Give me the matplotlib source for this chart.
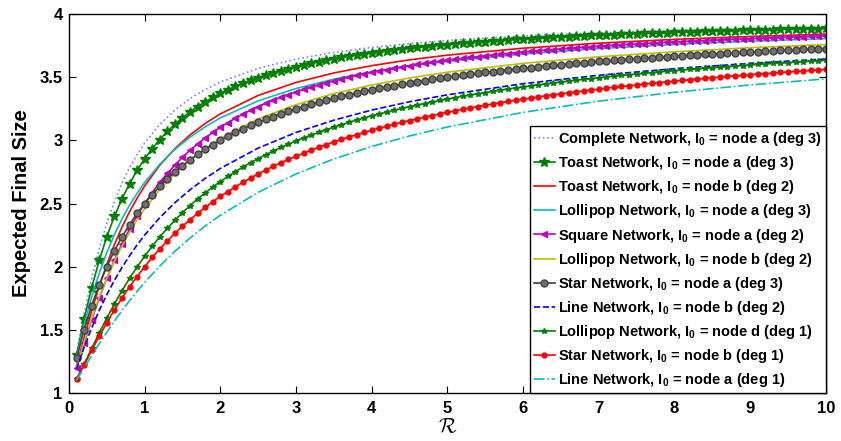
import numpy as np
import matplotlib
matplotlib.use('Agg')
import matplotlib.pyplot as plt

plt.rcParams['font.family'] = 'Liberation Sans'
plt.rcParams['font.weight'] = 'bold'
plt.rcParams['mathtext.fontset'] = 'custom'
plt.rcParams['mathtext.rm'] = 'Liberation Sans:bold'
plt.rcParams['mathtext.bf'] = 'Liberation Sans:bold'
plt.rcParams['mathtext.it'] = 'Liberation Sans:bold:italic'
plt.rcParams['mathtext.default'] = 'rm'

# R grid: markers every 0.1 for the marker series, coarser grid for plain lines
R_fine = np.arange(1, 101) / 10
R_coarse = [0.1, 0.2, 0.3, 0.4, 0.5, 0.6, 0.7, 0.8, 0.9, 1.0, 1.2, 1.4, 1.6, 1.8,
            2.0, 2.5, 3.0, 3.5, 4.0, 4.5, 5, 6, 7, 8, 9, 10]

complete_a = [1.316, 1.627, 1.904, 2.143, 2.344, 2.515, 2.660, 2.783, 2.888, 2.979,
              3.127, 3.241, 3.331, 3.403, 3.462, 3.571, 3.644, 3.697, 3.736, 3.767,
              3.791, 3.827, 3.852, 3.871, 3.886, 3.898]

toast_a = [1.301, 1.584, 1.834, 2.050, 2.237, 2.398, 2.537, 2.657, 2.762, 2.854,
           2.935, 3.007, 3.071, 3.128, 3.180, 3.226, 3.268, 3.306, 3.341, 3.372,
           3.402, 3.428, 3.453, 3.476, 3.497, 3.517, 3.535, 3.552, 3.568, 3.583,
           3.598, 3.611, 3.623, 3.635, 3.646, 3.657, 3.666, 3.676, 3.685, 3.693,
           3.701, 3.709, 3.716, 3.723, 3.730, 3.736, 3.742, 3.748, 3.754, 3.759,
           3.764, 3.769, 3.774, 3.779, 3.783, 3.787, 3.791, 3.795, 3.799, 3.803,
           3.806, 3.810, 3.813, 3.816, 3.819, 3.822, 3.825, 3.828, 3.831, 3.833,
           3.836, 3.838, 3.841, 3.843, 3.845, 3.848, 3.850, 3.852, 3.854, 3.856,
           3.858, 3.860, 3.862, 3.863, 3.865, 3.867, 3.868, 3.870, 3.872, 3.873,
           3.875, 3.876, 3.878, 3.879, 3.881, 3.882, 3.883, 3.885, 3.886, 3.887]

toast_b = [1.214, 1.437, 1.649, 1.844, 2.019, 2.174, 2.312, 2.434, 2.542, 2.639,
           2.803, 2.935, 3.044, 3.134, 3.210, 3.356, 3.459, 3.534, 3.592, 3.638,
           3.675, 3.730, 3.770, 3.800, 3.823, 3.841]

lollipop_a = [1.286, 1.540, 1.759, 1.948, 2.111, 2.253, 2.377, 2.485, 2.581, 2.667,
              2.811, 2.929, 3.026, 3.108, 3.178, 3.313, 3.411, 3.485, 3.542, 3.588,
              3.626, 3.684, 3.727, 3.760, 3.785, 3.806]

square_a = [1.199, 1.394, 1.579, 1.750, 1.907, 2.050, 2.180, 2.297, 2.404, 2.500,
            2.587, 2.667, 2.739, 2.805, 2.866, 2.922, 2.973, 3.020, 3.063, 3.104,
            3.141, 3.176, 3.208, 3.239, 3.267, 3.293, 3.318, 3.341, 3.363, 3.384,
            3.403, 3.422, 3.439, 3.456, 3.471, 3.486, 3.500, 3.514, 3.527, 3.539,
            3.550, 3.561, 3.572, 3.582, 3.592, 3.601, 3.610, 3.619, 3.627, 3.635,
            3.642, 3.650, 3.657, 3.663, 3.670, 3.676, 3.682, 3.688, 3.694, 3.699,
            3.705, 3.710, 3.715, 3.719, 3.724, 3.729, 3.733, 3.737, 3.741, 3.745,
            3.749, 3.753, 3.757, 3.760, 3.764, 3.767, 3.770, 3.774, 3.777, 3.780,
            3.783, 3.785, 3.788, 3.791, 3.794, 3.796, 3.799, 3.801, 3.804, 3.806,
            3.808, 3.811, 3.813, 3.815, 3.817, 3.819, 3.821, 3.823, 3.825, 3.827]

lollipop_b = [1.204, 1.404, 1.589, 1.757, 1.907, 2.042, 2.163, 2.272, 2.370, 2.458,
              2.611, 2.738, 2.845, 2.936, 3.015, 3.170, 3.283, 3.371, 3.439, 3.494,
              3.540, 3.610, 3.662, 3.702, 3.734, 3.759]

star_a = [1.273, 1.500, 1.692, 1.857, 2.000, 2.125, 2.235, 2.333, 2.421, 2.500,
          2.571, 2.636, 2.696, 2.750, 2.800, 2.846, 2.889, 2.929, 2.966, 3.000,
          3.032, 3.063, 3.091, 3.118, 3.143, 3.167, 3.189, 3.211, 3.231, 3.250,
          3.268, 3.286, 3.302, 3.318, 3.333, 3.348, 3.362, 3.375, 3.388, 3.400,
          3.412, 3.423, 3.434, 3.444, 3.455, 3.464, 3.474, 3.483, 3.492, 3.500,
          3.508, 3.516, 3.524, 3.531, 3.538, 3.545, 3.552, 3.559, 3.565, 3.571,
          3.577, 3.583, 3.589, 3.595, 3.600, 3.605, 3.610, 3.615, 3.620, 3.625,
          3.630, 3.634, 3.639, 3.643, 3.647, 3.651, 3.655, 3.659, 3.663, 3.667,
          3.670, 3.674, 3.677, 3.681, 3.684, 3.688, 3.691, 3.694, 3.697, 3.700,
          3.703, 3.706, 3.709, 3.712, 3.714, 3.717, 3.720, 3.722, 3.725, 3.727]

line_b = [1.190, 1.361, 1.515, 1.653, 1.778, 1.891, 1.993, 2.086, 2.172, 2.250,
          2.388, 2.507, 2.609, 2.699, 2.778, 2.939, 3.063, 3.160, 3.240, 3.306,
          3.361, 3.449, 3.516, 3.568, 3.610, 3.645]

lollipop_d = [1.108, 1.229, 1.352, 1.475, 1.593, 1.704, 1.809, 1.907, 1.998, 2.083,
              2.162, 2.236, 2.304, 2.368, 2.428, 2.484, 2.536, 2.585, 2.631, 2.674,
              2.715, 2.753, 2.789, 2.824, 2.856, 2.887, 2.916, 2.944, 2.970, 2.996,
              3.020, 3.042, 3.064, 3.085, 3.105, 3.124, 3.143, 3.161, 3.178, 3.194,
              3.209, 3.225, 3.239, 3.253, 3.267, 3.280, 3.292, 3.304, 3.316, 3.327,
              3.338, 3.349, 3.359, 3.369, 3.379, 3.388, 3.398, 3.406, 3.415, 3.423,
              3.432, 3.439, 3.447, 3.455, 3.462, 3.469, 3.476, 3.483, 3.489, 3.496,
              3.502, 3.508, 3.514, 3.520, 3.525, 3.531, 3.536, 3.542, 3.547, 3.552,
              3.557, 3.562, 3.566, 3.571, 3.575, 3.580, 3.584, 3.588, 3.593, 3.597,
              3.601, 3.605, 3.609, 3.612, 3.616, 3.620, 3.623, 3.627, 3.630, 3.634]

star_b = [1.107, 1.222, 1.337, 1.449, 1.556, 1.656, 1.751, 1.840, 1.922, 2.000,
          2.073, 2.140, 2.204, 2.264, 2.320, 2.373, 2.422, 2.469, 2.514, 2.556,
          2.595, 2.633, 2.669, 2.702, 2.735, 2.765, 2.795, 2.823, 2.849, 2.875,
          2.899, 2.923, 2.945, 2.967, 2.988, 3.008, 3.027, 3.045, 3.063, 3.080,
          3.097, 3.112, 3.128, 3.143, 3.157, 3.171, 3.184, 3.197, 3.210, 3.222,
          3.234, 3.246, 3.257, 3.268, 3.278, 3.288, 3.298, 3.308, 3.317, 3.327,
          3.335, 3.344, 3.353, 3.361, 3.369, 3.377, 3.384, 3.392, 3.399, 3.406,
          3.413, 3.420, 3.427, 3.433, 3.439, 3.446, 3.452, 3.458, 3.463, 3.469,
          3.475, 3.480, 3.485, 3.491, 3.496, 3.501, 3.506, 3.511, 3.515, 3.520,
          3.525, 3.529, 3.533, 3.538, 3.542, 3.546, 3.550, 3.554, 3.558, 3.562]

line_a = [1.100, 1.199, 1.296, 1.391, 1.481, 1.568, 1.651, 1.730, 1.804, 1.875,
          2.005, 2.122, 2.227, 2.322, 2.407, 2.589, 2.734, 2.853, 2.952, 3.035,
          3.106, 3.222, 3.311, 3.381, 3.439, 3.487]

labels = [r'Complete Network, I$_0$ = node a (deg 3)',
          r'Toast Network, I$_0$ = node a (deg 3)',
          r'Toast Network, I$_0$ = node b (deg 2)',
          r'Lollipop Network, I$_0$ = node a (deg 3)',
          r'Square Network, I$_0$ = node a (deg 2)',
          r'Lollipop Network, I$_0$ = node b (deg 2)',
          r'Star Network, I$_0$ = node a (deg 3)',
          r'Line Network, I$_0$ = node b (deg 2)',
          r'Lollipop Network, I$_0$ = node d (deg 1)',
          r'Star Network, I$_0$ = node b (deg 1)',
          r'Line Network, I$_0$ = node a (deg 1)']

fig = plt.figure(figsize=(8.41, 4.41), dpi=100)
ax = fig.add_axes([0.082, 0.109, 0.900, 0.859])

lw = 1.2
ax.plot(R_coarse, complete_a, ':', color='#8080ff', lw=lw, label=labels[0])
ax.plot(R_fine, toast_a, '-', color='#008000', lw=lw, marker='*', ms=7,
        mfc='#008000', mec='#008000', label=labels[1])
ax.plot(R_coarse, toast_b, '-', color='#ff0000', lw=lw, label=labels[2])
ax.plot(R_coarse, lollipop_a, '-', color='#00bfbf', lw=lw, label=labels[3])
ax.plot(R_fine, square_a, '-', color='#bf00bf', lw=lw, marker='<', ms=5,
        mfc='#bf00bf', mec='#bf00bf', label=labels[4])
ax.plot(R_coarse, lollipop_b, '-', color='#bfbf00', lw=lw, label=labels[5])
ax.plot(R_fine, star_a, '-', color='#404040', lw=lw, marker='o', ms=5,
        mfc='#707070', mec='#404040', label=labels[6])
ax.plot(R_coarse, line_b, '--', color='#0000ff', lw=lw, label=labels[7])
ax.plot(R_fine, lollipop_d, '-', color='#008000', lw=lw, marker='*', ms=4,
        mfc='#008000', mec='#008000', label=labels[8])
ax.plot(R_fine, star_b, '-', color='#ff0000', lw=lw, marker='o', ms=3.5,
        mfc='#ff0000', mec='#ff0000', label=labels[9])
ax.plot(R_coarse, line_a, '-.', color='#00bfbf', lw=lw, label=labels[10])

ax.set_xlim(0, 10)
ax.set_ylim(1, 4)
ax.set_xticks(range(0, 11))
ax.set_yticks([1, 1.5, 2, 2.5, 3, 3.5, 4])
ax.set_yticklabels(['1', '1.5', '2', '2.5', '3', '3.5', '4'])
ax.tick_params(direction='in', top=True, right=True, length=5, width=0.8,
               labelsize=12)
ax.tick_params(axis='x', pad=6)
ax.tick_params(axis='y', pad=4.5)
for sp in ax.spines.values():
    sp.set_linewidth(1.0)

ax.set_ylabel('Expected Final Size', fontsize=14.5, fontweight='bold', labelpad=6)
ax.set_xlabel(r'$\mathcal{R}$', fontsize=15, math_fontfamily='cm', labelpad=1)

leg = ax.legend(loc='lower right', frameon=True, fancybox=False,
                framealpha=1, edgecolor='black', borderaxespad=0.0,
                borderpad=0.25, labelspacing=0.42, handlelength=1.5,
                handletextpad=0.2, prop={'weight': 'bold', 'size': 10.5})
leg.get_frame().set_linewidth(1.0)

fig.savefig('out.png', dpi=100)
